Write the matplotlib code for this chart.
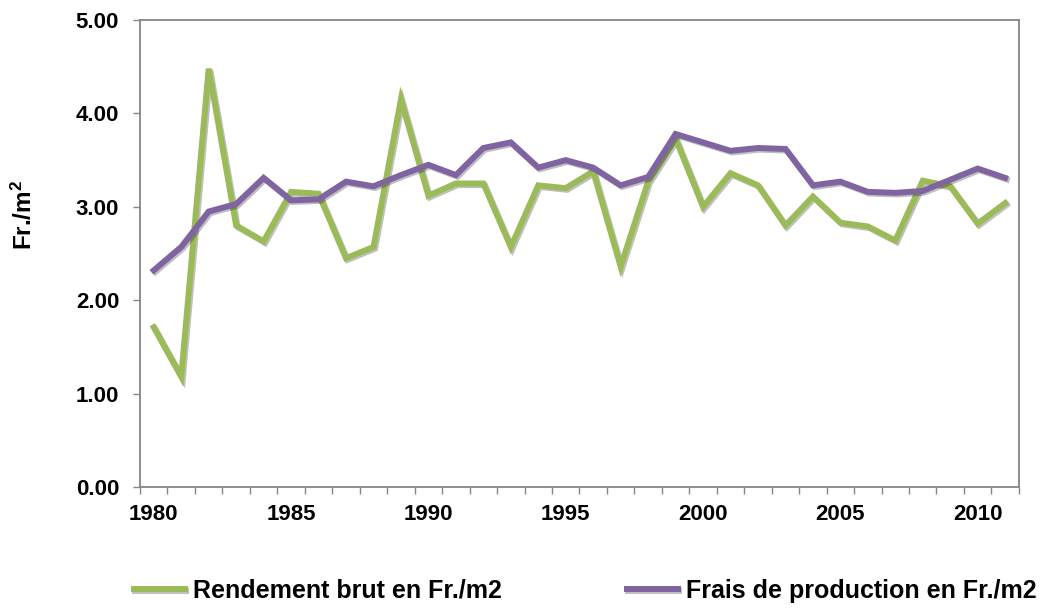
import matplotlib
matplotlib.use("Agg")
import matplotlib.pyplot as plt
import matplotlib.patheffects as pe
import numpy as np

years = list(range(1980, 2012))
rendement = [1.71, 1.18, 4.48, 2.80, 2.63, 3.16, 3.14, 2.45, 2.57, 4.15,
             3.12, 3.25, 3.25, 2.57, 3.23, 3.20, 3.38, 2.36, 3.27, 3.73,
             3.00, 3.36, 3.23, 2.80, 3.11, 2.83, 2.79, 2.64, 3.28, 3.22,
             2.82, 3.04]
frais = [2.32, 2.57, 2.95, 3.03, 3.31, 3.07, 3.08, 3.27, 3.22, 3.34,
         3.45, 3.34, 3.63, 3.69, 3.42, 3.50, 3.42, 3.23, 3.32, 3.78,
         3.69, 3.60, 3.63, 3.62, 3.23, 3.27, 3.16, 3.15, 3.17, 3.29,
         3.41, 3.31]
series_names = ["Rendement brut en Fr./m2", "Frais de production en Fr./m2"]
colors = ["#9BBB59", "#8064A2"]

plt.rcParams['font.family'] = ['Liberation Sans', 'DejaVu Sans']
plt.rcParams['font.weight'] = 'bold'
plt.rcParams['mathtext.fontset'] = 'custom'
plt.rcParams['mathtext.bf'] = 'Liberation Sans:bold'
plt.rcParams['mathtext.rm'] = 'Liberation Sans:bold'
plt.rcParams['mathtext.default'] = 'bf'

fig = plt.figure(figsize=(10.64, 6.08), dpi=100)
ax = fig.add_axes([0.1316, 0.199, 0.826, 0.768])

x = np.arange(len(years))
shadow = [pe.SimpleLineShadow(offset=(1.2, -1.2), alpha=0.25, shadow_color='black'), pe.Normal()]
for vals, name, col in zip([rendement, frais], series_names, colors):
    ax.plot(x, vals, color=col, lw=4.3, label=name, solid_joinstyle='miter',
            path_effects=shadow)

ax.set_xlim(-0.5, len(years) - 0.5)
ax.set_ylim(0, 5)
ax.set_yticks(np.arange(0, 5.01, 1.0))
ax.set_yticklabels([f"{v:.2f}" for v in np.arange(0, 5.01, 1.0)])
major = [i for i, y in enumerate(years) if y % 5 == 0]
ax.set_xticks(major)
ax.set_xticklabels([str(years[i]) for i in major])
ax.set_xticks(np.arange(-0.5, len(years)), minor=True)
ax.tick_params(axis='x', which='major', length=0, pad=12, labelsize=16)
ax.tick_params(axis='x', which='minor', length=5, width=1, color='#868686')
ax.tick_params(axis='y', length=5, width=1, color='#868686', pad=10, labelsize=16)
for s in ax.spines.values():
    s.set_color('#868686')
    s.set_linewidth(1.3)

fig.text(0.023, 1 - 215 / 608, "Fr./m$^2$", rotation=90, ha='center', va='center',
         fontsize=17.5, fontweight='bold')

fig.legend(loc='center', bbox_to_anchor=(585 / 1064, 1 - 591 / 608), ncol=2, frameon=False,
           fontsize=18, handlelength=2.04, handletextpad=0.32, columnspacing=5.0,
           borderpad=0.2)

fig.savefig("out.png", dpi=100)
